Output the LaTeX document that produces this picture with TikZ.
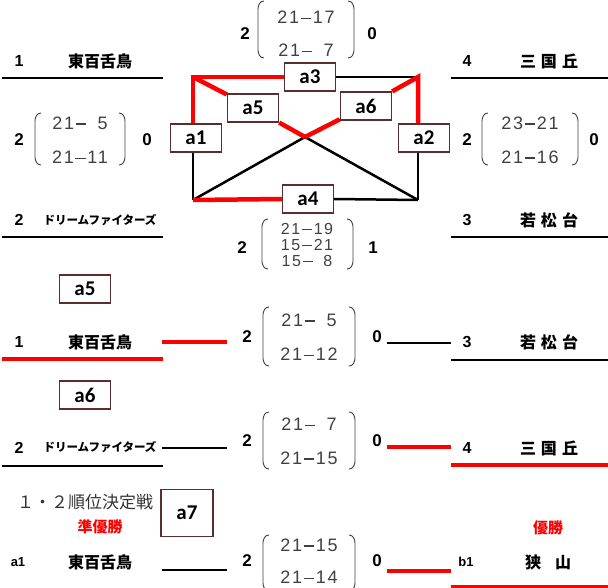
\documentclass[tikz,border=0pt]{standalone}
\usepackage{fontspec}
\setmainfont{Liberation Sans}
\newfontfamily\jpf{Noto Sans CJK JP}
\newfontfamily\lblf{Carlito}
\newfontfamily\scf[LetterSpace=10]{Liberation Sans}
\definecolor{boxc}{HTML}{5A2E2E}
\definecolor{scgray}{HTML}{404040}
\definecolor{ttlgray}{HTML}{333333}
\newcommand\mn{\hspace{1.5pt}\rule[4.6pt]{10.5pt}{1.1pt}\hspace{1.5pt}}
\newcommand\scparens[4]{%
  \draw[paren] (#1+6,#3) to[out=180,in=90] (#1,#3+8) -- (#1,#4-8) to[out=-90,in=180] (#1+6,#4);
  \draw[paren] (#2-6,#3) to[out=0,in=90] (#2,#3+8) -- (#2,#4-8) to[out=-90,in=0] (#2-6,#4);}
\begin{document}
\begin{tikzpicture}[x=1pt,y=-1pt,
  lab/.style={draw=boxc,line width=1.4pt,fill=white,inner sep=0pt,minimum width=51pt,minimum height=28pt,font=\lblf\bfseries\fontsize{21}{21}\selectfont},
  redl/.style={red,line width=4.5pt},
  blkl/.style={black,line width=2.5pt},
  tline/.style={black,line width=2.2pt},
  tred/.style={red,line width=4.5pt},
  num/.style={inner sep=0pt,font=\bfseries\fontsize{16}{16}\selectfont},
  sid/.style={inner sep=0pt,font=\bfseries\fontsize{13}{13}\selectfont},
  team/.style={inner sep=0pt,font=\jpf\bfseries\fontsize{16}{16}\selectfont},
  kana/.style={inner sep=0pt,font=\jpf\bfseries\fontsize{11.5}{11.5}\selectfont},
  sc/.style={inner sep=0pt,text=scgray,font=\scf\fontsize{18}{18}\selectfont},
  scs/.style={inner sep=0pt,text=scgray,font=\scf\fontsize{16}{16}\selectfont},
  big/.style={inner sep=0pt,font=\bfseries\fontsize{17}{17}\selectfont},
  paren/.style={scgray,line width=0.9pt},
  win/.style={inner sep=0pt,text=red,font=\jpf\bfseries\fontsize{15}{15}\selectfont},
  ttl/.style={inner sep=0pt,text=ttlgray,font=\jpf\fontsize{17}{17}\selectfont},
]
\useasboundingbox (0,0) rectangle (608,588);

% ---------- top section: teams ----------
\node[num] (n1) at (19,61) {1};
\node[team] (t1) at (100,61) {東百舌鳥};
\coordinate (u1a) at (2,78); \coordinate (u1b) at (163,78);
\draw[tline] (u1a) -- (u1b);
\node[num] (n2) at (19,220) {2};
\node[kana] (t2) at (100,220) {ドリームファイターズ};
\coordinate (u2a) at (2,237); \coordinate (u2b) at (163,237);
\draw[tline] (u2a) -- (u2b);
\node[num] (n4) at (467,61) {4};
\node[team] (t4) at (549,61) {三\hspace{5pt}国\hspace{5pt}丘};
\coordinate (u4a) at (451,78); \coordinate (u4b) at (608,78);
\draw[tline] (u4a) -- (u4b);
\node[num] (n3) at (467,220) {3};
\node[team] (t3) at (549,220) {若\hspace{5pt}松\hspace{5pt}台};
\coordinate (u3a) at (451,237); \coordinate (u3b) at (608,237);
\draw[tline] (u3a) -- (u3b);

% ---------- top scores ----------
% a3
\node[big] (s3l) at (245,34) {2};
\scparens{258}{354}{1}{58}
\node[sc] (s3a) at (306,17) {21\mn17};
\node[sc] (s3b) at (306,50) {21\mn\phantom{1}7};
\node[big] (s3r) at (372,34) {0};
% a1
\node[big] (s1l) at (19,140) {2};
\scparens{35}{125}{113}{165}
\node[sc] (s1a) at (80,123) {21\mn\phantom{1}5};
\node[sc] (s1b) at (80,157) {21\mn11};
\node[big] (s1r) at (147,140) {0};
% a2
\node[big] (s2l) at (467,140) {2};
\scparens{482}{578}{113}{165}
\node[sc] (s2a) at (530,123) {23\mn21};
\node[sc] (s2b) at (530,157) {21\mn16};
\node[big] (s2r) at (594,140) {0};
% a4
\node[big] (s4l) at (242,248) {2};
\scparens{262}{353}{219}{269}
\node[scs] (s4a) at (307,229) {21\mn19};
\node[scs] (s4b) at (307,245) {15\mn21};
\node[scs] (s4c) at (307,261) {15\mn\phantom{1}8};
\node[big] (s4r) at (373,248) {1};

% ---------- round robin square ----------
\coordinate (TL) at (193,77);
\coordinate (TR) at (418,77);
\coordinate (BL) at (193,200);
\coordinate (BR) at (418,200);
\coordinate (C) at (305,137);
\node[lab] (a3) at (310,77) {a3};
\node[lab] (a5) at (253,108) {a5};
\node[lab] (a6) at (366,106) {a6};
\node[lab] (a1) at (196,138) {a1};
\node[lab] (a2) at (424,138) {a2};
\node[lab] (a4) at (308,199) {a4};
\draw[blkl] (a3.east) -- (TR);
\draw[blkl] (TL |- a1.south) -- (BL);
\draw[blkl] (TR |- a2.south) -- (BR);
\draw[blkl] (a4.east) -- (BR);
\draw[blkl] (C) -- (BR);
\draw[blkl] (C) -- (BL);
\draw[redl,line join=miter] (a3.west) -- (TL) -- (TL |- a1.north);
\draw[redl,line join=miter] (TR |- a2.north) -- (TR) -- (a6);
\draw[redl] (a6) -- (C);
\draw[redl] (TL) -- (a5);
\draw[redl] (a5) -- (C);
\draw[redl] (BL) -- (a4.west);

% ---------- a5 match ----------
\node[lab] (b5) at (85,289) {a5};
\node[num] (m1n) at (19,342) {1};
\node[team] (m1) at (100,342) {東百舌鳥};
\coordinate (m1ua) at (2,359); \coordinate (m1ub) at (163,359);
\draw[tred] (m1ua) -- (m1ub);
\coordinate (m1ca) at (162,342); \coordinate (m1cb) at (227,342);
\draw[tred] (m1ca) -- (m1cb);
\node[big] (m5l) at (247,337) {2};
\scparens{263}{355}{307}{366}
\node[sc] (m5a) at (309,320) {21\mn\phantom{1}5};
\node[sc] (m5b) at (309,354) {21\mn12};
\node[big] (m5r) at (377,337) {0};
\coordinate (m3ca) at (387,343); \coordinate (m3cb) at (451,343);
\draw[tline] (m3ca) -- (m3cb);
\node[num] (m3n) at (467,342) {3};
\node[team] (m3) at (549,342) {若\hspace{5pt}松\hspace{5pt}台};
\coordinate (m3ua) at (451,360); \coordinate (m3ub) at (608,360);
\draw[tline] (m3ua) -- (m3ub);

% ---------- a6 match ----------
\node[lab] (b6) at (85,395) {a6};
\node[num] (m2n) at (19,448) {2};
\node[kana] (m2) at (100,447) {ドリームファイターズ};
\coordinate (m2ca) at (162,448); \coordinate (m2cb) at (227,448);
\draw[tline] (m2ca) -- (m2cb);
\coordinate (m2ua) at (2,466); \coordinate (m2ub) at (163,466);
\draw[tline] (m2ua) -- (m2ub);
\node[big] (m6l) at (247,441) {2};
\scparens{263}{355}{412}{469}
\node[sc] (m6a) at (309,424) {21\mn\phantom{1}7};
\node[sc] (m6b) at (309,458) {21\mn15};
\node[big] (m6r) at (377,441) {0};
\coordinate (m4ca) at (387,447); \coordinate (m4cb) at (451,447);
\draw[tred] (m4ca) -- (m4cb);
\node[num] (m4n) at (467,448) {4};
\node[team] (m4) at (549,448) {三\hspace{5pt}国\hspace{5pt}丘};
\coordinate (m4ua) at (451,465); \coordinate (m4ub) at (608,465);
\draw[tred] (m4ua) -- (m4ub);

% ---------- final ----------
\node[ttl] (title) at (85,502) {１・２順位決定戦};
\node[lab,minimum height=47pt,minimum width=52pt] (b7) at (187,513) {a7};
\node[win] (runner) at (100,527) {準優勝};
\node[win] (champ) at (548,528) {優勝};
\node[sid] (fa1) at (18,562) {a1};
\node[team] (f1) at (100,562) {東百舌鳥};
\coordinate (f1ca) at (162,570); \coordinate (f1cb) at (227,570);
\draw[tline] (f1ca) -- (f1cb);
\node[big] (f7l) at (247,561) {2};
\scparens{263}{355}{535}{591}
\node[sc] (f7a) at (309,545) {21\mn15};
\node[sc] (f7b) at (309,577) {21\mn14};
\node[big] (f7r) at (377,561) {0};
\coordinate (fbca) at (387,571); \coordinate (fbcb) at (451,571);
\draw[tred] (fbca) -- (fbcb);
\node[sid] (fb1) at (466,562) {b1};
\node[team] (fb) at (548,562) {狭\hspace{14pt}山};
\coordinate (fbua) at (451,587); \coordinate (fbub) at (608,587);
\draw[tred] (fbua) -- (fbub);
\end{tikzpicture}
\end{document}
